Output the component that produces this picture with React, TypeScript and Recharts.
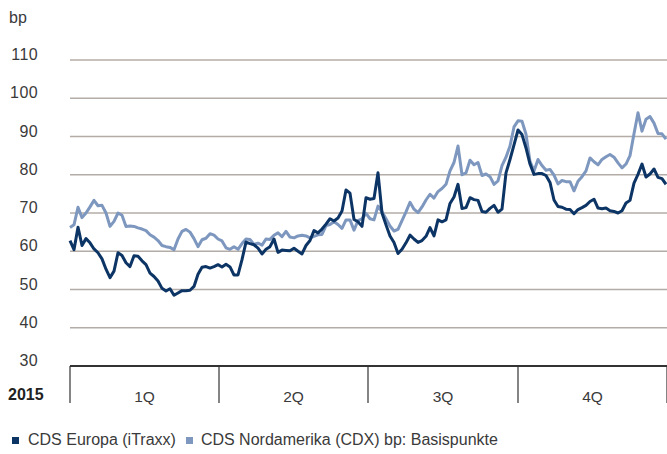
import { LineChart, Line, XAxis, YAxis, CartesianGrid } from 'recharts'

// Spreads (bp), sampled about every 1.7 trading days through 2015
const europa = [
  62.8, 60.4, 66.3, 61.5, 63.3, 62.2, 60.6, 59.6, 58, 55.3, 53.1, 54.8, 59.6, 58.9, 57, 56, 58.8, 58.7, 57.5,
  56.5, 54.3, 53.4, 52.2, 50.3, 49.6, 50.2, 48.5, 49.1, 49.7, 49.7, 49.8, 50.8, 54, 55.8, 56, 55.6, 56, 56.5,
  55.9, 56.6, 55.9, 53.8, 53.8, 57.8, 62.4, 62, 61.7, 60.8, 59.3, 60.5, 61.2, 63.2, 59.7, 60.3, 60.2, 60.1, 60.8,
  60, 59.3, 61.5, 62.8, 65.4, 64.8, 65.8, 67.1, 68.5, 67.9, 68.7, 70.5, 76, 75.2, 68.3, 67.7, 66.5, 74,
  73.6, 73.8, 80.5, 70, 66.9, 64, 62.3, 59.4, 60.5, 62.2, 64.2, 63.2, 62.3, 62.8, 63.9, 66.2, 64, 68.2, 67.7,
  68.2, 72.5, 74.2, 77.5, 71.2, 71.4, 74, 73.5, 73.3, 70.4, 70.2, 71.2, 72, 70.2, 71, 80.5, 84, 87.8, 91.7,
  90.5, 87, 82.8, 80.1, 80.3, 80.3, 79.8, 78, 73.4, 71.7, 71.5, 71, 70.9, 69.8, 70.9, 71.4, 72, 73, 73.6,
  71.3, 71.1, 71.3, 70.6, 70.4, 70, 70.6, 72.6, 73.3, 77.8, 80.1, 82.8, 79.4, 80.2, 81.5, 79.3, 79, 77.5,
]

const nordamerika = [
  66.2, 66.9, 71.5, 68.8, 70, 71.6, 73.3, 71.9, 72, 70, 66.5, 67.8, 70, 69.4, 66.5, 66.6, 66.5, 66.1, 65.8,
  65.4, 64.3, 63.7, 62.8, 61.5, 61.2, 61, 60.4, 63.2, 65.2, 65.7, 65, 63.3, 61.2, 63, 63.4, 64.6, 64.2, 63.2,
  62.7, 60.9, 60.5, 61.2, 60.5, 62, 63.2, 63.1, 61.8, 62.1, 61.6, 63.2, 63.1, 64.2, 64.8, 63.8, 65.2, 63.7, 63.5,
  64, 64.2, 64, 63.5, 63.9, 64.3, 64.4, 66.7, 67, 67.7, 67, 66, 68.2, 68.2, 65.5, 68, 68.5, 69.9,
  68.5, 68.2, 71.8, 70.3, 68.5, 66.6, 65.3, 65.7, 68, 70.3, 72.8, 71, 70.1, 71.6, 73.4, 74.9, 73.9, 75.6, 76.4,
  77.5, 81, 83.2, 87.5, 80, 80.5, 83.8, 82.6, 83.2, 79.8, 80.2, 79.5, 77.5, 78.4, 82.4, 84.6, 87.5, 92.5, 94.1,
  94, 90.6, 83.5, 81, 84, 82.4, 81.2, 81.4, 79.9, 77.6, 78.5, 78.2, 78.2, 75.8, 78.3, 79.5, 81, 84.4, 83.4,
  82.6, 84, 84.7, 85.3, 84.6, 83.1, 81.8, 82.8, 85, 90.7, 96.2, 91.4, 94.5, 95.2, 93.5, 90.8, 90.7, 89.3,
]

const quarterBounds = [0, 37.25, 74.5, 112, 149.25]
const quarterLabels = ['1Q', '2Q', '3Q', '4Q']
const yTicks = [30, 40, 50, 60, 70, 80, 90, 100, 110]

const DARK = '#0c3566'
const LIGHT = '#7d97bf'
const TEXT = '#3a3a3a'
const FONT = '"Liberation Sans", Arial, sans-serif'
const PX_PER_STEP = 4

const data = europa.map((v, i) => ({ i, europa: v, nordamerika: nordamerika[i] }))

function YTick({ y, payload }: any) {
  return (
    <text x={38} y={y} textAnchor="end" fontSize={16} letterSpacing={0.4} fill={TEXT} fontFamily={FONT}>
      {payload.value}
    </text>
  )
}

function QuarterTick({ x, y, payload }: any) {
  const k = quarterBounds.indexOf(payload.value)
  const half = k >= 0 && k < 4 ? ((quarterBounds[k + 1] - quarterBounds[k]) * PX_PER_STEP) / 2 : 0
  return (
    <g>
      <line x1={x} x2={x} y1={y} y2={y + 37} stroke="#333" strokeWidth={1.2} />
      {k >= 0 && k < 4 && (
        <text x={x + half} y={y + 36} textAnchor="middle" fontSize={15.5} fill={TEXT} fontFamily={FONT}>
          {quarterLabels[k]}
        </text>
      )}
    </g>
  )
}

export default function App() {
  return (
    <div style={{ position: 'absolute', left: 0, top: 0, width: 667, height: 454, background: '#fff', fontFamily: FONT }}>
      <div style={{ position: 'absolute', left: 9, top: 9, fontSize: 16, color: TEXT }}>bp</div>
      <div style={{ position: 'absolute', left: 8, top: 386, fontSize: 16, fontWeight: 700, color: '#222' }}>2015</div>

      <LineChart width={667} height={454} data={data} margin={{ top: 60, right: 0, left: 0, bottom: 0 }}>
        <CartesianGrid horizontal vertical={false} stroke="#b3aca7" strokeWidth={1.5} />
        <XAxis
          dataKey="i"
          type="number"
          domain={[0, 149.25]}
          ticks={quarterBounds}
          interval={0}
          height={88}
          tickLine={false}
          tickSize={0}
          tickMargin={0}
          axisLine={{ stroke: '#333', strokeWidth: 2.2 }}
          tick={<QuarterTick />}
        />
        <YAxis
          type="number"
          domain={[30, 110]}
          ticks={yTicks}
          width={70}
          axisLine={false}
          tickLine={false}
          tick={<YTick />}
        />
        <Line dataKey="nordamerika" stroke={LIGHT} strokeWidth={3} dot={false} isAnimationActive={false} strokeLinejoin="round" />
        <Line dataKey="europa" stroke={DARK} strokeWidth={3} dot={false} isAnimationActive={false} strokeLinejoin="round" />
      </LineChart>

      <div style={{ position: 'absolute', left: 0, top: 431, display: 'flex', alignItems: 'center', fontSize: 16, color: TEXT, whiteSpace: 'nowrap' }}>
        <span style={{ display: 'inline-block', width: 7, height: 7, background: DARK, marginLeft: 12, marginRight: 9 }} />
        <span>CDS Europa (iTraxx)</span>
        <span style={{ display: 'inline-block', width: 7, height: 7, background: LIGHT, marginLeft: 10, marginRight: 8 }} />
        <span>CDS Nordamerika (CDX) bp: Basispunkte</span>
      </div>
    </div>
  )
}
